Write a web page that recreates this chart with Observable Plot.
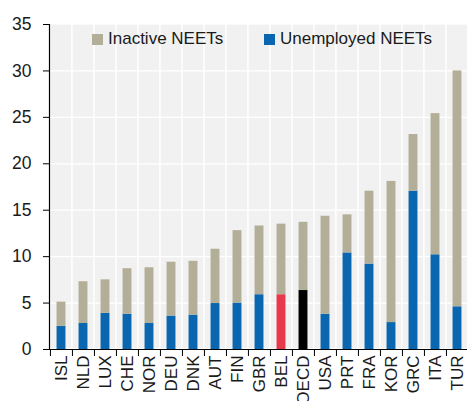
<!DOCTYPE html>
<html>
<head>
<meta charset="utf-8">
<script src="https://cdn.jsdelivr.net/npm/d3@7"></script>
<script src="https://cdn.jsdelivr.net/npm/@observablehq/plot@0.6"></script>
<style>
  body { margin: 0; background: #fff; }
  #wrap { position: relative; width: 467px; height: 401px; font-family: "Liberation Sans", Arial, sans-serif; }
  .leg { position: absolute; top: 29px; display: flex; align-items: center; font-size: 17px; color: #1a1a1a; white-space: nowrap; }
  .sw { width: 11px; height: 11px; margin-right: 5px; display: inline-block; }
</style>
</head>
<body>
<div id="wrap"></div>
<script>
const countries = ["ISL","NLD","LUX","CHE","NOR","DEU","DNK","AUT","FIN","GBR","BEL","OECD","USA","PRT","FRA","KOR","GRC","ITA","TUR"];
const unemployed = [2.5,2.8,3.9,3.8,2.8,3.6,3.7,4.95,5.0,5.9,5.9,6.35,3.8,10.4,9.2,2.9,17.05,10.2,4.6];
const inactive = [2.6,4.5,3.6,4.9,6.0,5.8,5.8,5.85,7.8,7.4,7.6,7.35,10.55,4.1,7.85,15.2,6.1,15.2,25.4];
const seriesNames = ["Unemployed NEETs", "Inactive NEETs"];
const yTicks = [0,5,10,15,20,25,30,35];

const BLUE = "#0b66b0", BEIGE = "#b3ae97", RED = "#e8394a", BLACK = "#000000";

const data = [];
countries.forEach((c, i) => {
  data.push({country: c, series: seriesNames[0], value: unemployed[i]});
  data.push({country: c, series: seriesNames[1], value: inactive[i]});
});

const W = 467, H = 401, ML = 49, MR = -2;
const step = (W - ML - MR) / countries.length;
const barW = 9;
const inset = (step - barW) / 2;

function fillOf(d) {
  if (d.series === seriesNames[1]) return BEIGE;
  if (d.country === "BEL") return RED;
  if (d.country === "OECD") return BLACK;
  return BLUE;
}

const chart = Plot.plot({
  width: W, height: H,
  marginLeft: ML, marginRight: MR, marginTop: 24, marginBottom: 52,
  style: {fontFamily: "Liberation Sans, Arial, sans-serif", fontSize: "16px", color: "#1a1a1a", background: "#fff"},
  x: {domain: countries, padding: 0, label: null},
  y: {domain: [0, 35], label: null},
  marks: [
    Plot.barY(countries, {x: d => d, y1: 0, y2: 35, fill: "#f1f1f1", stroke: "#ffffff", strokeWidth: 1.3}),
    Plot.ruleY(yTicks.slice(1, -1), {stroke: "#ffffff", strokeWidth: 1.3}),
    Plot.barY(data, {x: "country", y: "value", fill: fillOf, insetLeft: inset, insetRight: inset, order: seriesNames}),
    Plot.ruleY([0], {stroke: "#000", strokeWidth: 1.2}),
    Plot.frame({anchor: "left", stroke: "#000", strokeWidth: 1.2}),
    Plot.axisY({ticks: yTicks, tickSize: 6, tickPadding: 12, fontSize: 17.5, label: null, stroke: "#000"}),
    Plot.axisX({tickSize: 7, tickFormat: () => "", dx: -step / 2, label: null, stroke: "#000"}),
    Plot.axisX({tickSize: 0, tickPadding: 6, tickRotate: -90, fontSize: 17, label: null})
  ]
});

const wrap = document.getElementById("wrap");
wrap.appendChild(chart);

function legendItem(label, color, left) {
  const el = document.createElement("div");
  el.className = "leg";
  el.style.left = left + "px";
  const sw = document.createElement("span");
  sw.className = "sw";
  sw.style.background = color;
  el.appendChild(sw);
  el.appendChild(document.createTextNode(label));
  wrap.appendChild(el);
}
legendItem(seriesNames[1], BEIGE, 92);
legendItem(seriesNames[0], BLUE, 264);
</script>
</body>
</html>
